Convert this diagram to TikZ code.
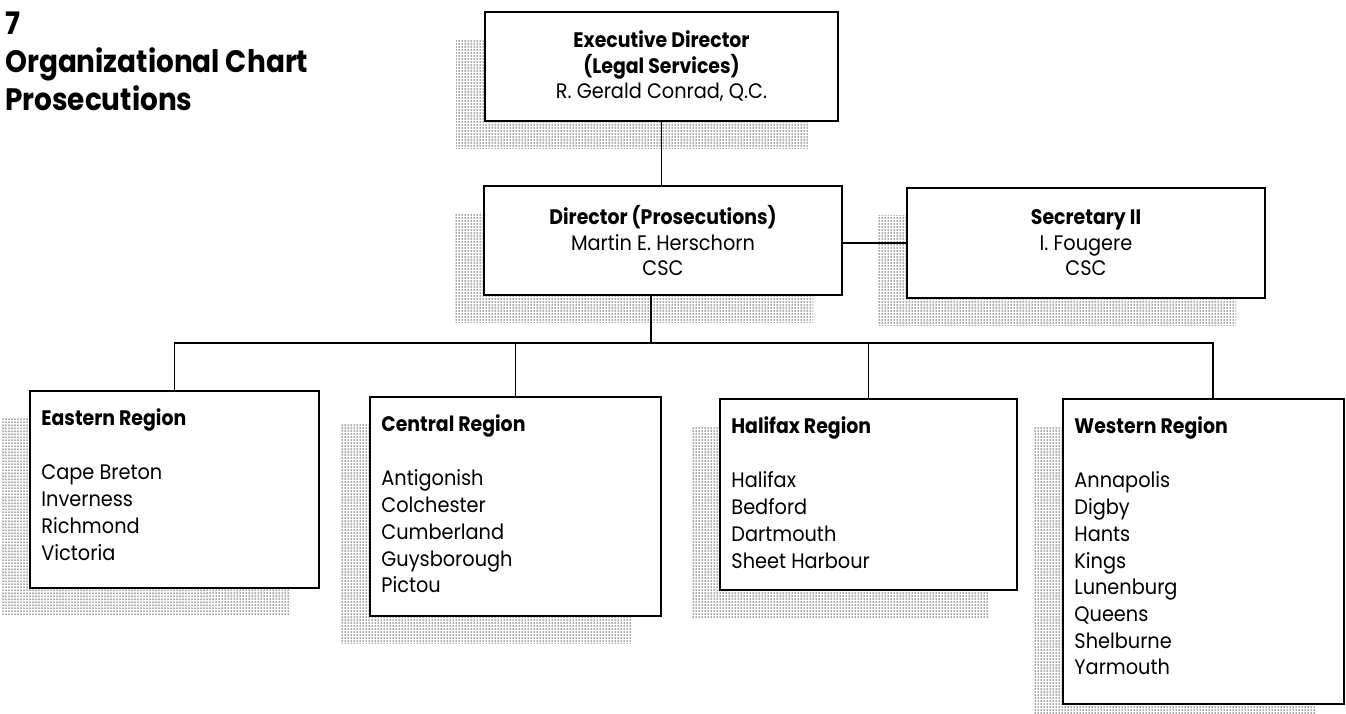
\documentclass[tikz,border=0pt]{standalone}
\usepackage{fontspec}
\setmainfont{Poppins}[FakeStretch=0.92,BoldFeatures={FakeStretch=0.9}]
\usetikzlibrary{positioning,calc,shadows,patterns}

% halftone screen for the shadows
\pgfdeclarepatternformonly{halftone}{\pgfqpoint{-1pt}{-1pt}}{\pgfqpoint{1pt}{1pt}}{\pgfqpoint{3pt}{3pt}}%
{\pgfpathcircle{\pgfqpoint{0pt}{0pt}}{0.75pt}\pgfusepath{fill}}

\begin{document}
\begin{tikzpicture}[x=1pt,y=-1pt,on grid,
		box/.style={rectangle,draw=black,line width=1.6pt,fill=white,inner sep=0pt,
			drop shadow={shadow xshift=-29pt,shadow yshift=-27pt,opacity=1,pattern=halftone,pattern color=black!70}},
		boxtext/.style={align=center,inner sep=0pt,font=\fontsize{21}{25.5}\selectfont},
		listtext/.style={align=left,anchor=north west,inner sep=0pt,font=\fontsize{21}{26.7}\selectfont},
		link/.style={line width=1.2pt}]
		\useasboundingbox (0,0) rectangle (1346,713);
		
		% title
		\node[anchor=north west,align=left,inner sep=0pt,font=\fontsize{31}{38}\bfseries] (title) at (5,12) {7\\Organizational Chart\\Prosecutions};
		
		% top of the chart
		\node[box,minimum width=353pt,minimum height=109pt] (exec) at (661.5,66.5) {};
		\node[boxtext] (execT) at (exec) {\textbf{Executive Director}\\\textbf{(Legal Services)}\\R. Gerald Conrad, Q.C.};
		\node[box,minimum width=358pt,minimum height=109pt,below=174pt of exec,xshift=1.5pt] (dir) {};
		\node[boxtext] (dirT) at (dir) {\textbf{Director (Prosecutions)}\\Martin E. Herschorn\\CSC};
		\node[box,minimum width=358pt,minimum height=110pt,right=423pt of dir,yshift=-2.5pt] (sec) {};
		\node[boxtext] (secT) at (sec) {\textbf{Secretary II}\\I. Fougere\\CSC};
		
		% regions
		\node[box,minimum width=289pt,minimum height=197pt] (east) at (174.5,489.5) {};
		\node[box,minimum width=291pt,minimum height=219pt] (cent) at (515.5,506.5) {};
		\node[box,minimum width=297pt,minimum height=191pt] (hali) at (868.5,494.5) {};
		\node[box,minimum width=281pt,minimum height=305pt] (west) at (1203.5,551.5) {};
		
		\node[listtext] (eastT) at ($(east.north west)+(12pt,-18pt)$) {\textbf{Eastern Region}\\[28pt]Cape Breton\\Inverness\\Richmond\\Victoria};
		\node[listtext] (centT) at ($(cent.north west)+(12pt,-18pt)$) {\textbf{Central Region}\\[28pt]Antigonish\\Colchester\\Cumberland\\Guysborough\\Pictou};
		\node[listtext] (haliT) at ($(hali.north west)+(12pt,-18pt)$) {\textbf{Halifax Region}\\[28pt]Halifax\\Bedford\\Dartmouth\\Sheet Harbour};
		\node[listtext] (westT) at ($(west.north west)+(12pt,-18pt)$) {\textbf{Western Region}\\[28pt]Annapolis\\Digby\\Hants\\Kings\\Lunenburg\\Queens\\Shelburne\\Yarmouth};
		
		% connectors
		\coordinate (bus) at (651,343);
		\coordinate (wdrop) at ($(west.north)+(9.5pt,0)$);
		\draw[link] (exec.south) -- (exec.south |- dir.north);
		\draw[link] (dir.east |- sec.west) -- (sec.west);
		\draw[link] (dir.south -| bus) -- (bus);
		\draw[link] (east.north) -- (east.north |- bus) -- (wdrop |- bus) -- (wdrop);
		\draw[link] (cent.north) -- (cent.north |- bus);
		\draw[link] (hali.north) -- (hali.north |- bus);
\end{tikzpicture}
\end{document}
